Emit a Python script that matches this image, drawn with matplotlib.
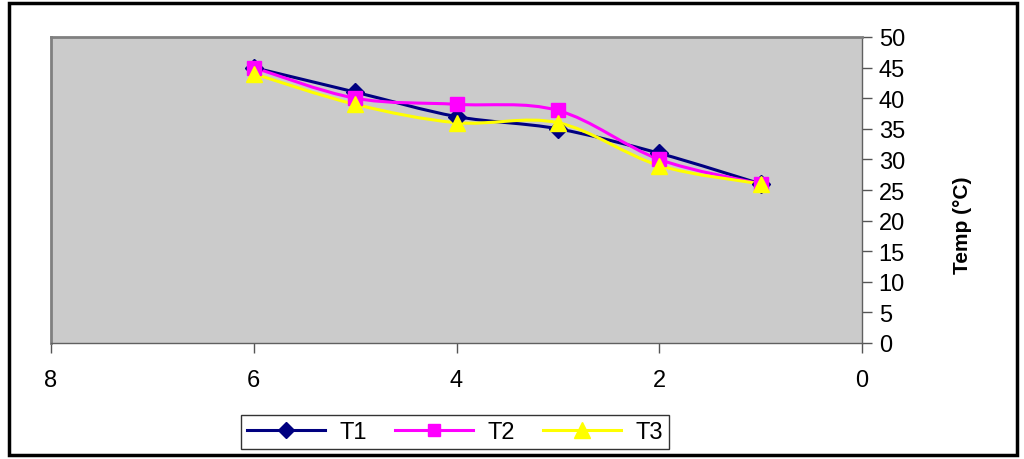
import matplotlib.pyplot as plt
from matplotlib.path import Path
from matplotlib.patches import PathPatch, Rectangle
from matplotlib.lines import Line2D

plt.rcParams['font.family'] = ['Liberation Sans', 'DejaVu Sans']

# readings per position
x_pos = [6, 5, 4, 3, 2, 1]
t1 = [45, 41, 37, 35, 31, 26]
t2 = [45, 40, 39, 38, 30, 26]
t3 = [44, 39, 36, 36, 29, 26]

series = [
    ('T1', t1, '#000080', 'D', 9),
    ('T2', t2, '#FF00FF', 's', 10),
    ('T3', t3, '#FFFF00', '^', 12),
]


def smooth_path(xs, ys):
    # cubic bezier through the points, spreadsheet-style smoothing
    pts = list(zip(xs, ys))
    verts = [pts[0]]
    codes = [Path.MOVETO]
    for i in range(len(pts) - 1):
        p0 = pts[i - 1] if i > 0 else pts[i]
        p1 = pts[i]
        p2 = pts[i + 1]
        p3 = pts[i + 2] if i + 2 < len(pts) else p2
        c1 = (p1[0] + (p2[0] - p0[0]) / 6, p1[1] + (p2[1] - p0[1]) / 6)
        c2 = (p2[0] - (p3[0] - p1[0]) / 6, p2[1] - (p3[1] - p1[1]) / 6)
        verts += [c1, c2, p2]
        codes += [Path.CURVE4] * 3
    return Path(verts, codes)


fig = plt.figure(figsize=(10.24, 4.6), dpi=100)
ax = fig.add_axes([51 / 1024, 1 - 344 / 460, 811 / 1024, 306 / 460])
ax.set_facecolor('#CBCBCB')

handles = []
for name, vals, color, marker, ms in series:
    patch = PathPatch(smooth_path(x_pos, vals), facecolor='none',
                      edgecolor=color, lw=2.2, zorder=3)
    ax.add_patch(patch)
    ax.plot(x_pos, vals, linestyle='none', marker=marker, color=color,
            markersize=ms, zorder=4)
    handles.append(Line2D([], [], color=color, lw=2.2, marker=marker,
                          markersize=ms - 1, label=name))

ax.set_xlim(8, 0)
ax.set_ylim(0, 50)
ax.set_xticks([8, 6, 4, 2, 0])
ax.set_yticks(range(0, 51, 5))
ax.yaxis.tick_right()
ax.tick_params(axis='both', labelsize=17, direction='out', length=7,
               color='#555555', width=1)
ax.tick_params(axis='y', pad=5)
ax.tick_params(axis='x', pad=12)

for side in ['left', 'top']:
    ax.spines[side].set_color('#808080')
    ax.spines[side].set_linewidth(2)
for side in ['right', 'bottom']:
    ax.spines[side].set_color('#606060')
    ax.spines[side].set_linewidth(1)

fig.text(962 / 1024, 1 - 225 / 460, 'Temp (°C)', rotation=90,
         ha='center', va='center', fontsize=15, fontweight='bold')

fig.legend(handles=handles, loc='center', ncol=3, fontsize=17,
           bbox_to_anchor=(455 / 1024, 1 - 433 / 460), frameon=True,
           fancybox=False, edgecolor='black', handlelength=3.3,
           columnspacing=1.2, borderpad=0.25, handletextpad=0.6)

fig.patches.append(Rectangle((9 / 1024, 4 / 460), 1008 / 1024, 452 / 460,
                             transform=fig.transFigure, fill=False,
                             edgecolor='black', lw=2.5))

fig.savefig('out.png', dpi=100)
